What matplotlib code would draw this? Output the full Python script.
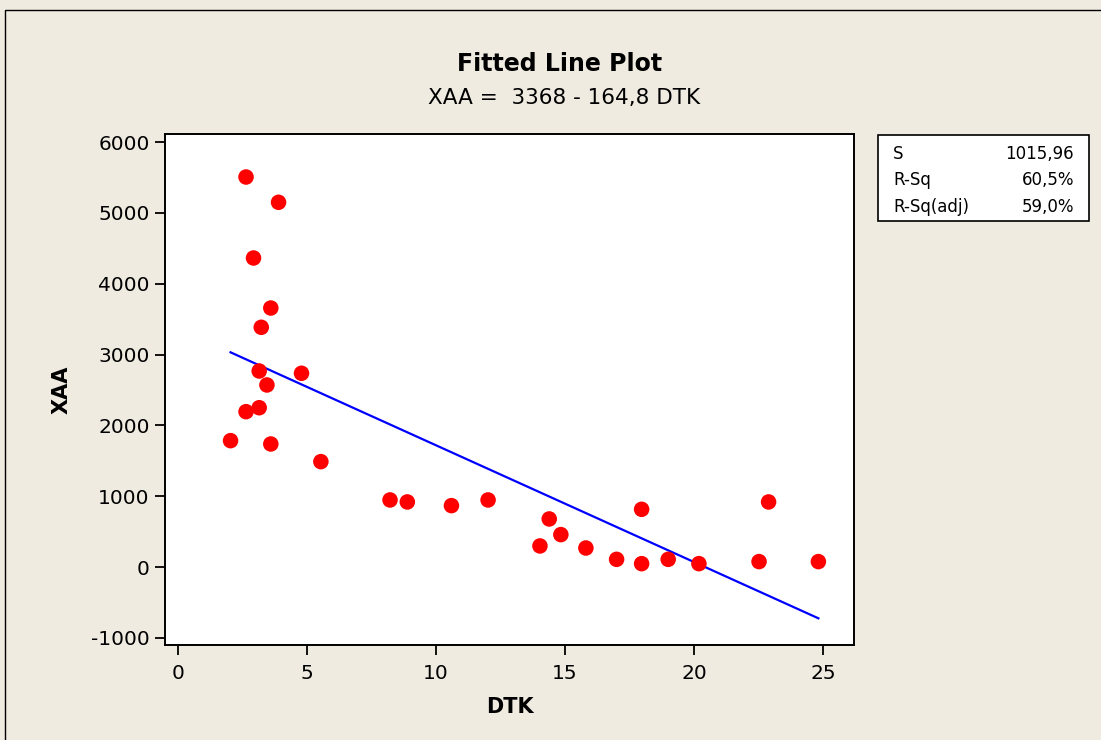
import matplotlib
matplotlib.use("Agg")
import matplotlib.pyplot as plt
from matplotlib.patches import Rectangle
import numpy as np

# Data
dtk = [2.64, 3.90, 2.93, 3.60, 3.23, 3.15, 4.79, 3.45, 2.64, 3.15, 2.04, 3.60, 5.54,
       8.22, 8.89, 10.60, 12.02, 14.39, 14.84, 14.03, 15.81, 17.00, 17.97, 17.97,
       19.00, 20.19, 22.52, 22.89, 24.82]
xaa = [5506, 5149, 4363, 3657, 3385, 2768, 2736, 2571, 2194, 2250, 1785, 1738, 1489,
       948, 920, 868, 948, 680, 459, 299, 270, 110, 49, 816,
       110, 49, 78, 920, 78]
intercept = 3368
slope = -164.8
stat_labels = ["S", "R-Sq", "R-Sq(adj)"]
stat_values = ["1015,96", "60,5%", "59,0%"]
x_ticks = [0, 5, 10, 15, 20, 25]
y_ticks = [-1000, 0, 1000, 2000, 3000, 4000, 5000, 6000]

BG = "#EFEBE1"
plt.rcParams['font.family'] = ["DejaVu Sans"]
plt.rcParams['axes.unicode_minus'] = False

W, H = 1101, 740
fig = plt.figure(figsize=(W / 100, H / 100), dpi=100, facecolor=BG)

# outer frame
fig.patches.append(Rectangle((5 / W, -0.05), 1.2, 1 - 10 / H + 0.05,
                             transform=fig.transFigure, fill=False,
                             edgecolor="black", linewidth=1.0))

ax = fig.add_axes([165 / W, 1 - 645 / H, (854 - 165) / W, (645 - 134) / H])
ax.set_facecolor("white")

ax.scatter(dtk, xaa, s=125, color="#FF0000", edgecolors="none", zorder=3)
xl = np.array([min(dtk), max(dtk)])
ax.plot(xl, intercept + slope * xl, color="#0000FF", linewidth=1.6, zorder=2)

ax.set_xlim(-0.5, 26.2)
ax.set_ylim(-1099, 6113)
ax.set_xticks(x_ticks)
ax.set_yticks(y_ticks)
ax.tick_params(direction="out", length=7, width=1.3, labelsize=14.5, pad=4, colors="black")
ax.tick_params(axis="x", pad=7)
for sp in ax.spines.values():
    sp.set_linewidth(1.4)
    sp.set_color("black")

ax.set_xlabel("DTK", fontsize=15, fontweight="bold", labelpad=10)
ax.set_ylabel("XAA", fontsize=15, fontweight="bold", labelpad=14)

fig.text(560 / W, 1 - 64 / H, "Fitted Line Plot", ha="center", va="center",
         fontsize=17, fontweight="bold")
fig.text(564 / W, 1 - 98 / H, "XAA =  3368 - 164,8 DTK", ha="center", va="center",
         fontsize=15.5)

# stats box
fig.patches.append(Rectangle((878 / W, 1 - 221 / H), (1089 - 878) / W, (221 - 135) / H,
                             transform=fig.transFigure, facecolor="white",
                             edgecolor="black", linewidth=1.2))
rows_y = [154, 180, 207]
for lab, val, yy in zip(stat_labels, stat_values, rows_y):
    fig.text(893 / W, 1 - yy / H, lab, ha="left", va="center", fontsize=12)
    fig.text(1074 / W, 1 - yy / H, val, ha="right", va="center", fontsize=12)

fig.savefig("out.png", dpi=100, facecolor=BG)
